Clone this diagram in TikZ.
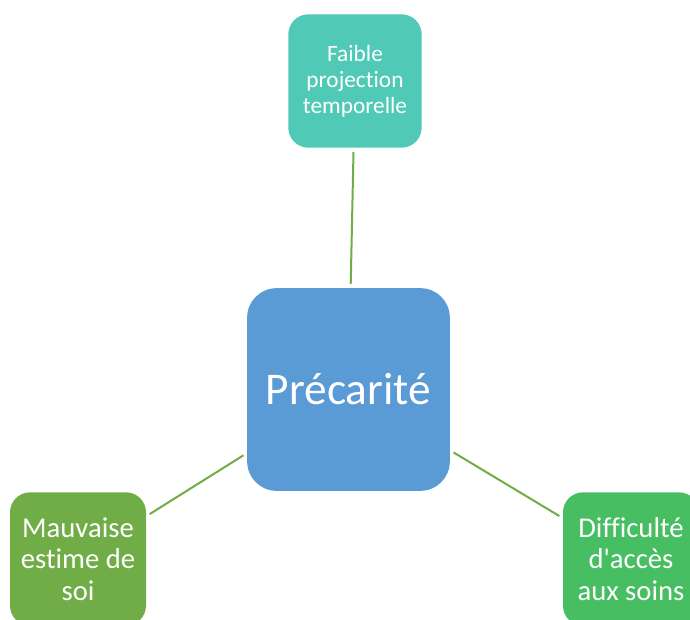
\documentclass[tikz,border=0pt]{standalone}
\usepackage{fontspec}
\newfontfamily\calib{Carlito}[Ligatures=NoCommon]
\usepackage{xcolor}
\usetikzlibrary{calc}

\definecolor{centreblue}{HTML}{5B9BD5}
\definecolor{tealbox}{HTML}{50CAB6}
\definecolor{leafgreen}{HTML}{70AD47}
\definecolor{softgreen}{HTML}{48BE63}

\begin{document}
\begin{tikzpicture}[x=0.75pt,y=-0.75pt,
    bubble/.style={rounded corners=15pt,align=center,text=white,inner sep=1pt},
    link/.style={draw=leafgreen,line width=1.5pt,shorten <=3pt,shorten >=3pt}]
  % Frame
  \useasboundingbox (0,0) rectangle (690,619);

  % Centre
  \node[bubble,fill=centreblue,rounded corners=22pt,minimum width=152pt,minimum height=152pt,
        font=\calib\fontsize{34}{40}\selectfont] (prec) at (348.5,389.5) {Précarité};

  % Satellites
  \node[bubble,fill=tealbox,minimum width=100pt,minimum height=100pt,
        font=\calib\fontsize{17.5}{19.5}\selectfont] (proj) at (355,81) {Faible\\projection\\temporelle};
  \node[bubble,fill=leafgreen,minimum width=102pt,minimum height=100pt,
        font=\calib\fontsize{21.5}{23.5}\selectfont] (estime) at (78,559) {Mauvaise\\estime de\\soi};
  \node[bubble,fill=softgreen,minimum width=102pt,minimum height=100pt,
        font=\calib\fontsize{21.5}{23.5}\selectfont] (soins) at (631,559) {Difficulté\\d'accès\\aux soins};

  % Links
  \draw[link] (prec) -- (proj);
  \draw[link] (prec) -- (estime);
  \draw[link] (prec) -- (soins);
\end{tikzpicture}
\end{document}
